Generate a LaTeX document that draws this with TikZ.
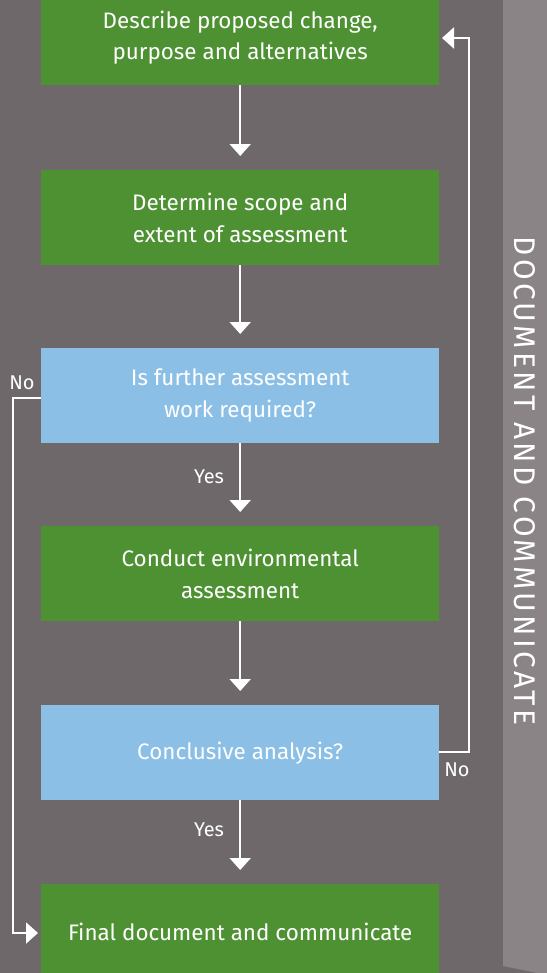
\documentclass[tikz,border=0pt]{standalone}
\usepackage{fontspec}
\setmainfont{Fira Sans}
\usetikzlibrary{arrows.meta}
\definecolor{bgc}{HTML}{6E686A}
\definecolor{stripc}{HTML}{8A8487}
\definecolor{greenc}{HTML}{4E9133}
\definecolor{bluec}{HTML}{8BBFE6}
\tikzset{
  box/.style={draw=none, minimum width=398bp, minimum height=95bp, inner sep=0pt, align=center, text=white, font=\fontsize{22.5}{32}\selectfont},
  gbox/.style={box, fill=greenc},
  bbox/.style={box, fill=bluec},
  conn/.style={draw=white, line width=2bp, -{Triangle[width=21bp,length=12bp]}},
  lab/.style={text=white, font=\fontsize{20}{24}\selectfont, inner sep=0pt}
}
\begin{document}
\begin{tikzpicture}[x=1bp,y=-1bp]
\useasboundingbox (0,0) rectangle (547,973);
\fill[bgc] (0,0) rectangle (547,973);
\fill[stripc] (503,0) -- (547,0) -- (547,975) -- (503,966) -- cycle;
\node[rotate=-90, text=white, font=\fontsize{30}{36}\selectfont\addfontfeature{LetterSpace=11}] (side) at (525,481) {DOCUMENT AND COMMUNICATE};
\node[gbox, anchor=north west] (b1) at (41,-10) {Describe proposed change,\\purpose and alternatives};
\node[gbox, anchor=north west] (b2) at (41,170) {Determine scope and\\extent of assessment};
\node[bbox, anchor=north west] (b3) at (41,348) {Is further assessment\\work required?};
\node[gbox, anchor=north west] (b4) at (41,526) {Conduct environmental\\assessment};
\node[bbox, anchor=north west] (b5) at (41,705) {Conclusive analysis?};
\node[gbox, anchor=north west] (b6) at (41,884) {Final document and communicate};
\draw[conn] (b1.south) -- ([yshift=14bp]b2.north);
\draw[conn] (b2.south) -- ([yshift=14bp]b3.north);
\draw[conn] (b3.south) -- ([yshift=14bp]b4.north);
\draw[conn] (b4.south) -- ([yshift=14bp]b5.north);
\draw[conn] (b5.south) -- ([yshift=14bp]b6.north);
\coordinate (l1) at (13,398);
\coordinate (l2) at (13,933);
\coordinate (r1) at (469,752);
\coordinate (r2) at (469,38);
\draw[conn] (41,398) -- (l1) -- (l2) -- (38,933);
\draw[conn] (439,752) -- (r1) -- (r2) -- (442,38);
\node[lab] (no1) at (22,383) {No};
\node[lab] (no2) at (457,770) {No};
\node[lab] (yes1) at (209,477) {Yes};
\node[lab] (yes2) at (209,830) {Yes};
\end{tikzpicture}
\end{document}
